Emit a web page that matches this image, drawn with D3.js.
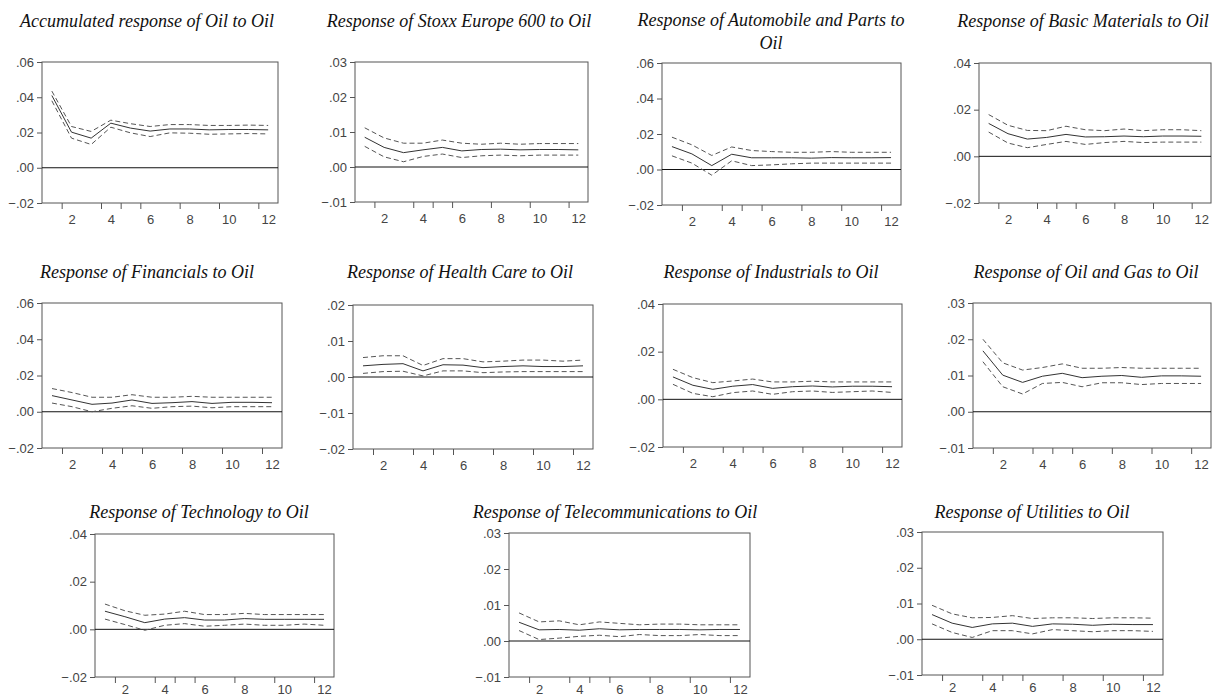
<!DOCTYPE html>
<html>
<head>
<meta charset="utf-8">
<script src="https://cdn.jsdelivr.net/npm/d3@7"></script>
<style>
body { margin: 0; background: #fff; }
svg { display: block; }
.title { font-family: "Liberation Serif", "Times New Roman", serif; font-style: italic; font-size: 18px; fill: #111; }
.tick text { font-family: "Liberation Sans", Arial, sans-serif; font-size: 13px; fill: #444; }
</style>
</head>
<body>
<svg id="chart" width="1212" height="698"></svg>
<script>
// impulse responses, periods 1..12 (mid = response, up/lo = +-2 s.e.)
const periods = d3.range(1, 13);

const midOil = [0.0410, 0.0202, 0.0168, 0.0253, 0.0225, 0.0208, 0.0220, 0.0220, 0.0215, 0.0217, 0.0217, 0.0215];
const upOil  = [0.0435, 0.0234, 0.0206, 0.0270, 0.0250, 0.0234, 0.0245, 0.0245, 0.0240, 0.0240, 0.0242, 0.0240];
const loOil  = [0.0380, 0.0168, 0.0132, 0.0230, 0.0198, 0.0177, 0.0198, 0.0196, 0.0190, 0.0192, 0.0194, 0.0192];

const midStoxx = [0.0085, 0.0056, 0.0041, 0.0049, 0.0056, 0.0046, 0.0050, 0.0051, 0.0049, 0.0050, 0.0050, 0.0049];
const upStoxx  = [0.0112, 0.0083, 0.0068, 0.0068, 0.0077, 0.0068, 0.0065, 0.0068, 0.0065, 0.0067, 0.0067, 0.0067];
const loStoxx  = [0.0059, 0.0029, 0.0015, 0.0030, 0.0037, 0.0027, 0.0032, 0.0034, 0.0032, 0.0034, 0.0034, 0.0034];

const midAuto = [0.0129, 0.0088, 0.0022, 0.0086, 0.0066, 0.0066, 0.0066, 0.0064, 0.0067, 0.0066, 0.0066, 0.0067];
const upAuto  = [0.0182, 0.0139, 0.0079, 0.0127, 0.0107, 0.0101, 0.0097, 0.0097, 0.0101, 0.0097, 0.0097, 0.0097];
const loAuto  = [0.0077, 0.0036, -0.0032, 0.0049, 0.0022, 0.0026, 0.0032, 0.0036, 0.0036, 0.0036, 0.0036, 0.0036];

const midBasic = [0.0141, 0.0097, 0.0074, 0.0081, 0.0094, 0.0083, 0.0084, 0.0087, 0.0084, 0.0087, 0.0087, 0.0086];
const upBasic  = [0.0179, 0.0133, 0.0111, 0.0110, 0.0129, 0.0114, 0.0110, 0.0117, 0.0110, 0.0114, 0.0114, 0.0110];
const loBasic  = [0.0104, 0.0057, 0.0037, 0.0051, 0.0064, 0.0051, 0.0059, 0.0064, 0.0059, 0.0061, 0.0061, 0.0061];

const midFin = [0.0089, 0.0065, 0.0041, 0.0048, 0.0065, 0.0046, 0.0050, 0.0056, 0.0046, 0.0052, 0.0052, 0.0050];
const upFin  = [0.0128, 0.0106, 0.0080, 0.0080, 0.0094, 0.0080, 0.0080, 0.0085, 0.0080, 0.0080, 0.0080, 0.0080];
const loFin  = [0.0048, 0.0028, 0.0000, 0.0019, 0.0033, 0.0019, 0.0028, 0.0031, 0.0022, 0.0028, 0.0028, 0.0028];

const midHealth = [0.0031, 0.0035, 0.0037, 0.0017, 0.0034, 0.0033, 0.0026, 0.0029, 0.0031, 0.0029, 0.0029, 0.0031];
const upHealth  = [0.0054, 0.0059, 0.0059, 0.0032, 0.0051, 0.0051, 0.0042, 0.0044, 0.0047, 0.0047, 0.0044, 0.0047];
const loHealth  = [0.0010, 0.0015, 0.0016, 0.0003, 0.0017, 0.0017, 0.0012, 0.0014, 0.0015, 0.0015, 0.0015, 0.0015];

const midInd = [0.0094, 0.0059, 0.0042, 0.0055, 0.0062, 0.0046, 0.0053, 0.0056, 0.0052, 0.0055, 0.0055, 0.0053];
const upInd  = [0.0126, 0.0091, 0.0070, 0.0077, 0.0085, 0.0073, 0.0073, 0.0076, 0.0073, 0.0073, 0.0073, 0.0073];
const loInd  = [0.0063, 0.0025, 0.0011, 0.0028, 0.0035, 0.0021, 0.0032, 0.0035, 0.0029, 0.0032, 0.0035, 0.0029];

const midGas = [0.0168, 0.0101, 0.0081, 0.0098, 0.0106, 0.0094, 0.0098, 0.0100, 0.0095, 0.0099, 0.0099, 0.0098];
const upGas  = [0.0200, 0.0135, 0.0115, 0.0122, 0.0132, 0.0120, 0.0120, 0.0122, 0.0120, 0.0120, 0.0120, 0.0120];
const loGas  = [0.0138, 0.0069, 0.0049, 0.0078, 0.0081, 0.0069, 0.0080, 0.0080, 0.0075, 0.0078, 0.0078, 0.0078];

const midTech = [0.0076, 0.0053, 0.0028, 0.0043, 0.0049, 0.0039, 0.0039, 0.0045, 0.0042, 0.0042, 0.0042, 0.0042];
const upTech  = [0.0106, 0.0078, 0.0059, 0.0064, 0.0076, 0.0062, 0.0062, 0.0067, 0.0062, 0.0062, 0.0062, 0.0062];
const loTech  = [0.0043, 0.0020, -0.0004, 0.0017, 0.0024, 0.0013, 0.0017, 0.0022, 0.0017, 0.0017, 0.0022, 0.0017];

const midTel = [0.0052, 0.0031, 0.0032, 0.0030, 0.0034, 0.0031, 0.0032, 0.0032, 0.0032, 0.0031, 0.0032, 0.0032];
const upTel  = [0.0078, 0.0053, 0.0056, 0.0045, 0.0053, 0.0049, 0.0045, 0.0047, 0.0047, 0.0045, 0.0045, 0.0045];
const loTel  = [0.0029, 0.0004, 0.0008, 0.0013, 0.0016, 0.0012, 0.0018, 0.0015, 0.0015, 0.0018, 0.0015, 0.0015];

const midUtil = [0.0069, 0.0045, 0.0033, 0.0043, 0.0045, 0.0036, 0.0043, 0.0042, 0.0039, 0.0042, 0.0041, 0.0041];
const upUtil  = [0.0095, 0.0071, 0.0060, 0.0061, 0.0066, 0.0058, 0.0060, 0.0060, 0.0058, 0.0060, 0.0060, 0.0059];
const loUtil  = [0.0043, 0.0019, 0.0005, 0.0024, 0.0024, 0.0015, 0.0027, 0.0024, 0.0021, 0.0024, 0.0024, 0.0022];

const titles = [
  ["Accumulated response of Oil to Oil"],
  ["Response of Stoxx Europe 600 to Oil"],
  ["Response of Automobile and Parts to", "Oil"],
  ["Response of Basic Materials to Oil"],
  ["Response of Financials to Oil"],
  ["Response of Health Care to Oil"],
  ["Response of Industrials to Oil"],
  ["Response of Oil and Gas to Oil"],
  ["Response of Technology to Oil"],
  ["Response of Telecommunications to Oil"],
  ["Response of Utilities to Oil"]
];
const mids   = [midOil, midStoxx, midAuto, midBasic, midFin, midHealth, midInd, midGas, midTech, midTel, midUtil];
const uppers = [upOil, upStoxx, upAuto, upBasic, upFin, upHealth, upInd, upGas, upTech, upTel, upUtil];
const lowers = [loOil, loStoxx, loAuto, loBasic, loFin, loHealth, loInd, loGas, loTech, loTel, loUtil];

const yTicksA = [-0.02, 0.00, 0.02, 0.04, 0.06];
const yTicksB = [-0.01, 0.00, 0.01, 0.02, 0.03];
const yTicksC = [-0.02, 0.00, 0.02, 0.04];
const yTicksD = [-0.02, -0.01, 0.00, 0.01, 0.02];
const yTicks = [yTicksA, yTicksB, yTicksA, yTicksC, yTicksA, yTicksD, yTicksC, yTicksB, yTicksC, yTicksB, yTicksB];

const xLabels = [2, 4, 6, 8, 10, 12];
const xTickEdges = [2, 4, 5, 6, 8, 10, 12];  // tick sits at the left edge of these periods

// frame boxes: left, top, width, height, title centre x, title baseline y, label gap
const layout = [
  [42, 62, 236, 141, 147, 27, 12],
  [355, 62, 233, 140, 459, 27, 12],
  [662, 63, 239, 142, 771, 26, 12],
  [979, 63, 232, 140, 1083, 27, 12],
  [42, 303, 240, 145, 147, 278, 12],
  [353, 305, 240, 144, 460, 278, 12],
  [663, 304, 239, 143, 771, 278, 12],
  [973, 303, 238, 145, 1086, 278, 12],
  [95, 534, 239, 143, 199, 518, 8],
  [509, 533, 241, 144, 615, 518, 8],
  [922, 532, 241, 143, 1032, 518, 8]
];

const svg = d3.select("#chart");
const fmt = d => d3.format(".2f")(d).replace("0.", ".");

titles.forEach((t, i) => {
  let [left, top, w, h, tx, ty, gap] = layout[i];
  let g = svg.append("g").attr("transform", "translate(" + left + "," + top + ")");

  let ext = d3.extent(yTicks[i]);
  let y = d3.scaleLinear().domain(ext).range([h, 0]);
  let x = d3.scaleLinear().domain([0.5, 12.5]).range([0, w]);

  // frame
  g.append("rect").attr("width", w).attr("height", h)
    .attr("fill", "none").attr("stroke", "#555").attr("stroke-width", 1);

  // zero line
  g.append("line").attr("x1", 0).attr("x2", w).attr("y1", y(0)).attr("y2", y(0))
    .attr("stroke", "#111").attr("stroke-width", 1);

  let yAxis = g.append("g").call(d3.axisLeft(y).tickValues(yTicks[i]).tickSize(5).tickPadding(3).tickFormat(fmt));
  yAxis.select(".domain").remove();
  yAxis.selectAll(".tick line").attr("stroke", "#555");

  let xt = g.append("g").attr("transform", "translate(0," + h + ")")
    .call(d3.axisBottom(x).tickValues(xTickEdges.map(p => p - 0.5)).tickSize(6).tickFormat(""));
  xt.select(".domain").remove();
  xt.selectAll(".tick line").attr("stroke", "#555");

  let xl = g.append("g").attr("transform", "translate(0," + h + ")")
    .call(d3.axisBottom(x).tickValues(xLabels).tickSize(0).tickPadding(gap).tickFormat(d3.format("d")));
  xl.select(".domain").remove();

  let line = d3.line().x((d, k) => x(periods[k])).y(d => y(d));
  g.append("path").datum(uppers[i]).attr("d", line)
    .attr("fill", "none").attr("stroke", "#555").attr("stroke-width", 1).attr("stroke-dasharray", "5,3");
  g.append("path").datum(lowers[i]).attr("d", line)
    .attr("fill", "none").attr("stroke", "#555").attr("stroke-width", 1).attr("stroke-dasharray", "5,3");
  g.append("path").datum(mids[i]).attr("d", line)
    .attr("fill", "none").attr("stroke", "#333").attr("stroke-width", 1);

  let title = svg.append("text").attr("class", "title").attr("text-anchor", "middle")
    .attr("x", tx).attr("y", ty);
  t.forEach((s, k) => {
    title.append("tspan").attr("x", tx).attr("dy", k === 0 ? 0 : 23).text(s);
  });
});
</script>
</body>
</html>
